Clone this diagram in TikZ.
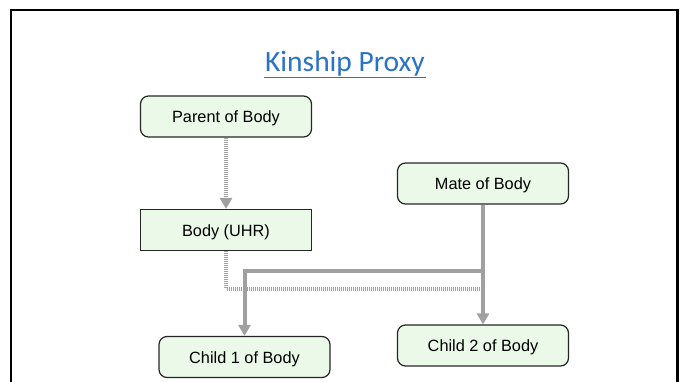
\documentclass[tikz,border=0pt]{standalone}
\usepackage{fontspec}
\setmainfont{Liberation Sans}
\newfontfamily\titlefont{Carlito}
\usetikzlibrary{arrows.meta}
\definecolor{boxfill}{HTML}{EAF9E8}
\definecolor{linkgray}{HTML}{A0A0A0}
\definecolor{titleblue}{HTML}{2A72C6}
\tikzset{
  kin/.style={draw=black!85, line width=1.2pt, fill=boxfill, minimum width=171pt, minimum height=41pt, inner sep=0pt, text height=12pt, text depth=0pt, font=\fontsize{16.3}{19}\selectfont},
  kinround/.style={kin, rounded corners=8pt},
  solidlink/.style={draw=linkgray, line width=4pt},
  dotlink/.style={draw=linkgray, line width=4pt, dash pattern=on 1pt off 1pt},
  tip/.style={-{Triangle[length=11pt,width=12pt]}}
}
\begin{document}
\begin{tikzpicture}[x=1pt,y=-1pt]
\useasboundingbox (0,0) rectangle (685,381);
\fill[white] (0,0) rectangle (685,381);
\draw[black, line width=2.6pt] (11,390) -- (11,10) -- (677.5,10) -- (677.5,390);
\node[text=titleblue, font=\fontsize{29.5}{32}\selectfont\titlefont, anchor=base] (title) at (345,71) {Kinship Proxy};
\draw[titleblue, line width=1.8pt] (264,77.5) -- (426,77.5);
\node[kinround] (parent) at (226,116.5) {Parent of Body};
\node[kin] (body) at (226,230) {Body (UHR)};
\node[kinround] (mate) at (483,183.5) {Mate of Body};
\node[kinround] (child1) at (244.5,357) {Child 1 of Body};
\node[kinround] (child2) at (483,345.5) {Child 2 of Body};
\coordinate (jmate) at (483,271);
\coordinate (jbody) at (483,288.5);
\draw[dotlink, tip] (parent.south) -- (body.north);
\draw[dotlink] (body.south) |- (jbody);
\draw[solidlink, tip] (mate.south) -- (child2.north);
\draw[solidlink, tip] (jmate) -| (child1.north);
\end{tikzpicture}
\end{document}
